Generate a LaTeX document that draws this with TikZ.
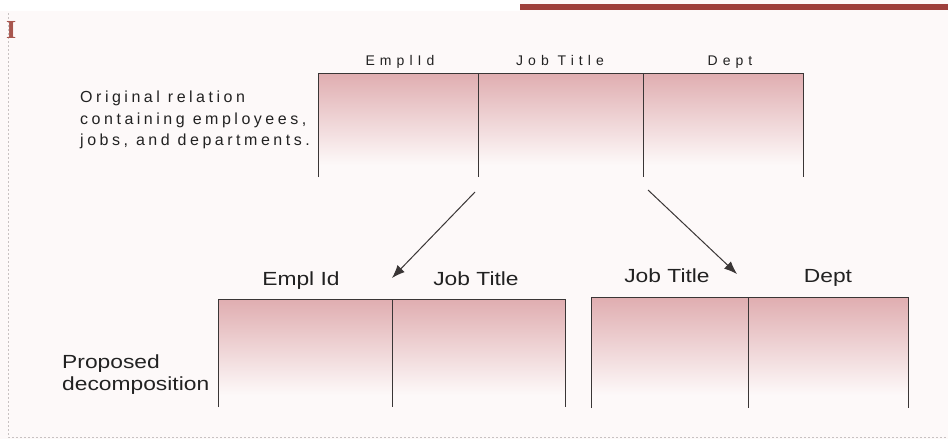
\documentclass[tikz,border=0pt]{standalone}
\usepackage{fontspec}
\setmainfont{Liberation Sans}
\newfontfamily\serifI{Liberation Serif}
\usetikzlibrary{arrows.meta,calc}
\definecolor{bgc}{HTML}{FDF9F9}
\definecolor{barc}{HTML}{9E3F3B}
\definecolor{pinkc}{HTML}{E0AEB1}
\definecolor{linec}{HTML}{3A3636}
\definecolor{txtc}{HTML}{222222}
\definecolor{icol}{HTML}{A8564E}
\definecolor{framec}{HTML}{C8C2C2}
\begin{document}
\begin{tikzpicture}[x=1pt,y=-1pt,
  hdr/.style={font=\fontsize{14}{16}\selectfont\addfontfeatures{LetterSpace=36}, text=txtc, inner sep=0pt, anchor=base},
  lbl/.style={font=\fontsize{19}{22}\selectfont, text=txtc, inner sep=0pt, anchor=base},
  note/.style={font=\fontsize{16}{21.5}\selectfont\addfontfeatures{LetterSpace=22}, text=txtc, inner sep=0pt, align=left, anchor=north west},
  note2/.style={font=\fontsize{19}{22}\selectfont, text=txtc, inner sep=0pt, align=left, anchor=north west},
  tline/.style={draw=linec, line width=0.9pt},
  arr/.style={draw=linec, line width=1pt, -{Latex[length=13pt,width=10pt]}}
]
\useasboundingbox (0,0) rectangle (948,439);
\fill[bgc] (0,0) rectangle (948,439);
\fill[white] (0,0) rectangle (520,11);
\fill[barc] (520,4) rectangle (948,10);
\draw[framec, dashed, dash pattern=on 2pt off 2pt, line width=0.8pt] (8,13) -- (8,437) -- (948,437);
\node[font=\serifI\fontsize{26}{28}\selectfont\bfseries, text=icol, inner sep=0pt, anchor=base west] (iletter) at (6,38) {I};

% original relation
\shade[top color=pinkc, bottom color=bgc] (318,74) rectangle (803,165);
\coordinate (t0) at (318,73);
\coordinate (t1) at (478,73);
\coordinate (t2) at (643,73);
\coordinate (t3) at (803,73);
\draw[tline] ($(t0)+(0,104)$) -- (t0) -- (t3) -- ($(t3)+(0,104)$);
\draw[tline] (t1) -- ++(0,104);
\draw[tline] (t2) -- ++(0,104);
\node[hdr] (h1) at (400,65) {EmplId};
\node[hdr] (h2) at (560,65) {Job Title};
\node[hdr] (h3) at (730,65) {Dept};
\node[note] (orig) at (80,91) {Original relation\\containing employees,\\jobs, and departments.};

% decomposition left
\shade[top color=pinkc, bottom color=bgc] (218,300) rectangle (565,395);
\coordinate (l0) at (218,299);
\coordinate (l1) at (392,299);
\coordinate (l2) at (565,299);
\draw[tline] ($(l0)+(0,108)$) -- (l0) -- (l2) -- ($(l2)+(0,108)$);
\draw[tline] (l1) -- ++(0,108);
\node[lbl] (d1) at (301,285) {\scalebox{1.2}[1]{Empl Id}};
\node[lbl] (d2) at (476,285) {\scalebox{1.2}[1]{Job Title}};

% decomposition right
\shade[top color=pinkc, bottom color=bgc] (591,298) rectangle (908,395);
\coordinate (r0) at (591,297);
\coordinate (r1) at (748,297);
\coordinate (r2) at (908,297);
\draw[tline] ($(r0)+(0,111)$) -- (r0) -- (r2) -- ($(r2)+(0,111)$);
\draw[tline] (r1) -- ++(0,111);
\node[lbl] (d3) at (667,282) {\scalebox{1.2}[1]{Job Title}};
\node[lbl] (d4) at (828,282) {\scalebox{1.2}[1]{Dept}};

\node[note2] (prop) at (62,355) {\scalebox{1.2}[1]{Proposed}\\\scalebox{1.2}[1]{decomposition}};

% arrows
\coordinate (a1s) at (475,192);
\coordinate (a1e) at (392,278);
\coordinate (a2s) at (648,190);
\coordinate (a2e) at (737,274);
\draw[arr] (a1s) -- (a1e);
\draw[arr] (a2s) -- (a2e);
\end{tikzpicture}
\end{document}
